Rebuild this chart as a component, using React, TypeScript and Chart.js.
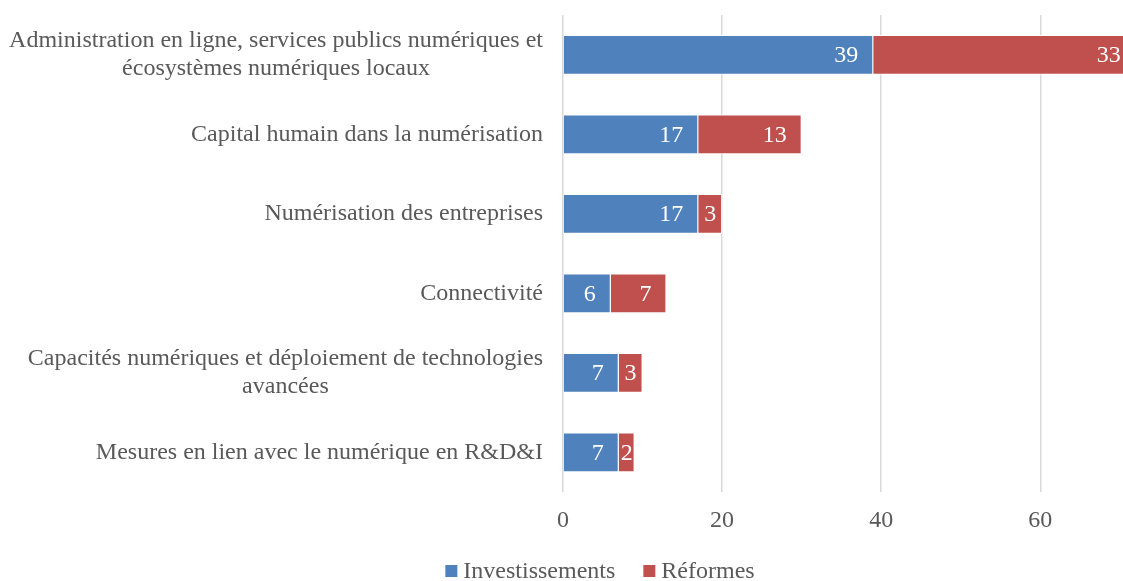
import { useEffect, useRef } from 'react';
import { Chart, registerables } from 'chart.js';

Chart.register(...registerables);

const categories: string[][] = [
  ['Administration en ligne, services publics numériques et', 'écosystèmes numériques locaux'],
  ['Capital humain dans la numérisation'],
  ['Numérisation des entreprises'],
  ['Connectivité'],
  ['Capacités numériques et déploiement de technologies', 'avancées'],
  ['Mesures en lien avec le numérique en R&D&I'],
];
const seriesNames = ['Investissements', 'Réformes'];
const investissements = [39, 17, 17, 6, 7, 7];
const reformes = [33, 13, 3, 7, 3, 2];
const xTickValues = [0, 20, 40, 60];

const FONT = '"Liberation Serif", "Times New Roman", serif';
const TEXT_COLOR = '#595959';
const BLUE = '#4F81BD';
const RED = '#C0504D';

const categoryLabelPlugin = {
  id: 'categoryLabels',
  afterDraw(chart: any) {
    const { ctx, chartArea } = chart;
    const yScale = chart.scales.y;
    const rightX = chartArea.left - 20;
    const lineH = 27.6;
    ctx.save();
    ctx.font = `24px ${FONT}`;
    ctx.fillStyle = TEXT_COLOR;
    ctx.textBaseline = 'middle';
    categories.forEach((lines, i) => {
      const yc = yScale.getPixelForValue(i);
      const widths = lines.map((l) => ctx.measureText(l).width);
      const w = Math.max(...widths);
      const n = lines.length;
      lines.forEach((line, j) => {
        const y = yc + (j - (n - 1) / 2) * lineH;
        if (n === 1) {
          ctx.textAlign = 'right';
          ctx.fillText(line, rightX, y);
        } else {
          ctx.textAlign = 'center';
          ctx.fillText(line, rightX - w / 2, y);
        }
      });
    });
    ctx.restore();
  },
};

const dataLabelPlugin = {
  id: 'barValueLabels',
  afterDatasetsDraw(chart: any) {
    const { ctx } = chart;
    const pad = 15;
    ctx.save();
    ctx.font = `24px ${FONT}`;
    ctx.fillStyle = '#FFFFFF';
    ctx.textBaseline = 'middle';
    chart.data.datasets.forEach((ds: any, d: number) => {
      const meta = chart.getDatasetMeta(d);
      meta.data.forEach((bar: any, i: number) => {
        const { x, base, y } = bar.getProps(['x', 'base', 'y'], true);
        const left = Math.min(x, base);
        const right = Math.max(x, base);
        const text = String(ds.data[i]);
        const tw = ctx.measureText(text).width;
        if (right - left >= tw + 2 * pad) {
          ctx.textAlign = 'right';
          ctx.fillText(text, right - pad, y + 1);
        } else {
          ctx.textAlign = 'center';
          ctx.fillText(text, (left + right) / 2, y + 1);
        }
      });
    });
    ctx.restore();
  },
};

const legendPlugin = {
  id: 'bottomLegend',
  afterDraw(chart: any) {
    const { ctx } = chart;
    const box = 12;
    const gapText = 6;
    const gapItem = 28;
    const centerX = 600;
    const baseline = 578;
    ctx.save();
    ctx.font = `24px ${FONT}`;
    const items = chart.data.datasets.map((ds: any) => ({
      label: ds.label,
      color: ds.backgroundColor,
      w: ctx.measureText(ds.label).width,
    }));
    const total =
      items.reduce((s: number, it: any) => s + box + gapText + it.w, 0) + gapItem * (items.length - 1);
    let x = centerX - total / 2;
    ctx.textBaseline = 'alphabetic';
    ctx.textAlign = 'left';
    items.forEach((it: any) => {
      ctx.fillStyle = it.color;
      ctx.fillRect(x, baseline - 13, box, box);
      x += box + gapText;
      ctx.fillStyle = TEXT_COLOR;
      ctx.fillText(it.label, x, baseline);
      x += it.w + gapItem;
    });
    ctx.restore();
  },
};

export default function App() {
  const canvasRef = useRef<HTMLCanvasElement | null>(null);

  useEffect(() => {
    if (!canvasRef.current) return;
    const chart = new Chart(canvasRef.current, {
      type: 'bar',
      data: {
        labels: categories.map((c) => c.join(' ')),
        datasets: [
          {
            label: seriesNames[0],
            data: investissements,
            backgroundColor: BLUE,
            borderColor: '#FFFFFF',
            borderWidth: 1,
          },
          {
            label: seriesNames[1],
            data: reformes,
            backgroundColor: RED,
            borderColor: '#FFFFFF',
            borderWidth: 1,
          },
        ],
      },
      options: {
        indexAxis: 'y',
        responsive: false,
        animation: false,
        datasets: {
          bar: { barPercentage: 0.5, categoryPercentage: 1.0 },
        },
        layout: { padding: { top: 15, bottom: 49, left: 0, right: 0 } },
        plugins: {
          legend: { display: false },
          tooltip: { enabled: false },
        },
        scales: {
          x: {
            type: 'linear',
            stacked: true,
            min: 0,
            max: 70.4,
            afterBuildTicks(scale: any) {
              scale.ticks = xTickValues.map((v) => ({ value: v }));
            },
            afterFit(scale: any) {
              scale.height = 40;
            },
            ticks: {
              font: { size: 24, family: FONT },
              color: TEXT_COLOR,
              padding: 14,
            },
            grid: { color: '#D9D9D9', lineWidth: 1.5, drawTicks: false },
            border: { display: false },
          },
          y: {
            type: 'category',
            stacked: true,
            ticks: { display: false },
            grid: { display: false, drawTicks: false },
            border: { display: false },
            afterFit(scale: any) {
              scale.width = 563;
            },
          },
        },
      },
      plugins: [categoryLabelPlugin, dataLabelPlugin, legendPlugin],
    });
    return () => chart.destroy();
  }, []);

  return (
    <div style={{ position: 'fixed', left: 0, top: 0, width: 1123, height: 581, background: '#fff' }}>
      <canvas ref={canvasRef} width={1123} height={581} style={{ display: 'block' }} />
    </div>
  );
}
